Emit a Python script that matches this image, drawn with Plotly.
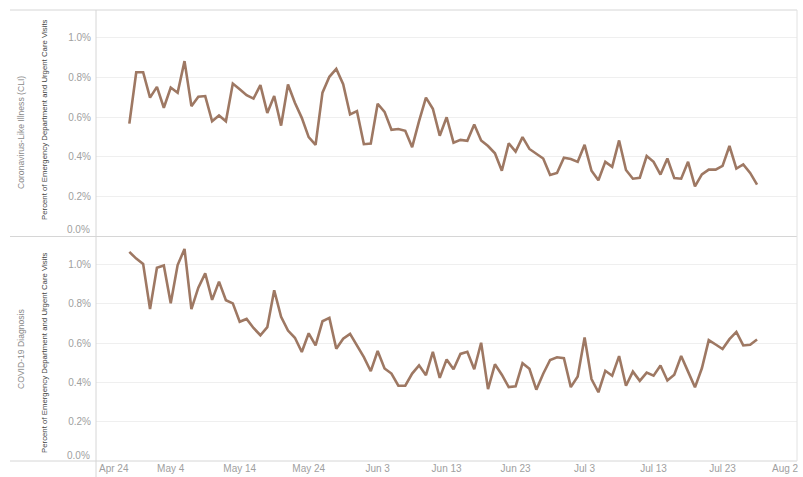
import pandas as pd
import plotly.graph_objects as go
from plotly.subplots import make_subplots

start_date = "2020-04-28"

cli_pct = [0.567, 0.826, 0.826, 0.698, 0.752, 0.647, 0.749, 0.723, 0.882, 0.655,
           0.703, 0.706, 0.579, 0.608, 0.579, 0.769, 0.740, 0.710, 0.693, 0.761,
           0.621, 0.706, 0.557, 0.764, 0.672, 0.596, 0.499, 0.460, 0.723, 0.803,
           0.843, 0.766, 0.613, 0.630, 0.463, 0.466, 0.667, 0.626, 0.536, 0.540,
           0.531, 0.448, 0.579, 0.698, 0.642, 0.506, 0.599, 0.471, 0.485, 0.480,
           0.563, 0.482, 0.454, 0.417, 0.329, 0.468, 0.426, 0.499, 0.439, 0.414,
           0.391, 0.308, 0.318, 0.395, 0.388, 0.374, 0.460, 0.329, 0.281, 0.374,
           0.349, 0.482, 0.333, 0.289, 0.294, 0.403, 0.374, 0.310, 0.391, 0.292,
           0.289, 0.374, 0.250, 0.311, 0.335, 0.335, 0.354, 0.454, 0.340, 0.361,
           0.318, 0.259]

covid_pct = [1.064, 1.030, 1.003, 0.773, 0.983, 0.995, 0.803, 0.997, 1.079, 0.773,
             0.882, 0.955, 0.820, 0.913, 0.818, 0.802, 0.709, 0.723, 0.677, 0.640,
             0.681, 0.869, 0.734, 0.664, 0.627, 0.555, 0.650, 0.588, 0.711, 0.728,
             0.571, 0.622, 0.647, 0.588, 0.529, 0.457, 0.560, 0.471, 0.445, 0.383,
             0.383, 0.445, 0.487, 0.437, 0.555, 0.423, 0.517, 0.467, 0.545, 0.556,
             0.467, 0.602, 0.366, 0.492, 0.439, 0.376, 0.380, 0.497, 0.469, 0.363,
             0.444, 0.514, 0.528, 0.523, 0.376, 0.430, 0.629, 0.417, 0.350, 0.459,
             0.434, 0.534, 0.383, 0.455, 0.408, 0.450, 0.434, 0.486, 0.410, 0.439,
             0.534, 0.455, 0.375, 0.472, 0.615, 0.593, 0.570, 0.620, 0.657, 0.588,
             0.592, 0.618]

row_labels = ["Coronavirus-Like Illness (CLI)", "COVID-19 Diagnosis"]
axis_title = "Percent of Emergency Department and Urgent Care Visits"
x_tick_dates = ["2020-04-24", "2020-05-04", "2020-05-14", "2020-05-24", "2020-06-03",
                "2020-06-13", "2020-06-23", "2020-07-03", "2020-07-13", "2020-07-23",
                "2020-08-02"]
x_tick_labels = ["Apr 24", "May 4", "May 14", "May 24", "Jun 3", "Jun 13", "Jun 23",
                 "Jul 3", "Jul 13", "Jul 23", "Aug 2"]
y_tick_vals = [0.0, 0.2, 0.4, 0.6, 0.8, 1.0]
y_tick_labels = ["0.0%", "0.2%", "0.4%", "0.6%", "0.8%", "1.0%"]

dates = pd.date_range(start_date, periods=len(cli_pct), freq="D")

LINE = "#9E7863"
SANS = "Liberation Sans, Arial, sans-serif"
TICK_COLOR = "#a0a0a0"

fig = make_subplots(rows=2, cols=1, shared_xaxes=True, vertical_spacing=0.002)
fig.add_trace(go.Scatter(x=dates, y=cli_pct, mode="lines",
                         line=dict(color=LINE, width=2.6), showlegend=False), row=1, col=1)
fig.add_trace(go.Scatter(x=dates, y=covid_pct, mode="lines",
                         line=dict(color=LINE, width=2.6), showlegend=False), row=2, col=1)

W, H = 803, 477
L, R, T, B = 96, 6, 10, 16
ph = H - T - B
pw = W - L - R

fig.update_layout(
    width=W, height=H,
    margin=dict(l=L, r=R, t=T, b=B, autoexpand=False),
    paper_bgcolor="white", plot_bgcolor="white",
    font=dict(family=SANS, size=10, color="#999999"),
)
fig.update_layout(yaxis=dict(domain=[(461 - 236) / ph, 1.0]),
                  yaxis2=dict(domain=[0.0, (461 - 237) / ph]))

# inner tick labels on the axes; the edge labels (nudged inside the pane, as in the original) as text
inner_vals = x_tick_dates[1:-1]
inner_text = x_tick_labels[1:-1]

for r in (1, 2):
    fig.update_yaxes(range=[0, 1.14], tickvals=y_tick_vals[1:], ticktext=y_tick_labels[1:],
                     showgrid=True, gridcolor="#efefef", gridwidth=1,
                     zeroline=False, showline=False, ticks="",
                     ticklabelstandoff=4, automargin=False,
                     tickfont=dict(family=SANS, size=10, color=TICK_COLOR),
                     row=r, col=1)
    fig.update_xaxes(range=["2020-04-23 04:00", "2020-08-02 19:00"],
                     tickvals=inner_vals, ticktext=inner_text,
                     showgrid=False, zeroline=False, showline=False, ticks="",
                     automargin=False, ticklabelstandoff=0,
                     ticklabeloverflow="allow",
                     tickfont=dict(family=SANS, size=10, color=TICK_COLOR),
                     row=r, col=1)

def px_x(x):
    return (x - L) / pw

def px_y(y):
    return (H - B - y) / ph

shapes = []
for yy in (10, 236.5, 461):
    shapes.append(dict(type="line", xref="paper", yref="paper",
                       x0=px_x(10), x1=px_x(797), y0=px_y(yy), y1=px_y(yy),
                       line=dict(color="#d6d6d6", width=1)))
shapes.append(dict(type="line", xref="paper", yref="paper",
                   x0=px_x(96), x1=px_x(96), y0=px_y(10), y1=px_y(477),
                   line=dict(color="#d6d6d6", width=1)))
shapes.append(dict(type="line", xref="paper", yref="paper",
                   x0=px_x(797), x1=px_x(797), y0=px_y(10), y1=px_y(461),
                   line=dict(color="#e2e2e2", width=1)))
fig.update_layout(shapes=shapes)

annotations = [
    dict(text=row_labels[0], x=px_x(21), y=px_y(133), xref="paper", yref="paper",
         textangle=-90, showarrow=False, xanchor="center", yanchor="middle",
         font=dict(family=SANS, size=8.6, color="#8a8a8a")),
    dict(text=row_labels[1], x=px_x(21), y=px_y(349), xref="paper", yref="paper",
         textangle=-90, showarrow=False, xanchor="center", yanchor="middle",
         font=dict(family=SANS, size=8.6, color="#8a8a8a")),
    dict(text=axis_title, x=px_x(44), y=px_y(119), xref="paper", yref="paper",
         textangle=-90, showarrow=False, xanchor="center", yanchor="middle",
         font=dict(family=SANS, size=7.8, color="#444444")),
    dict(text=axis_title, x=px_x(44), y=px_y(352), xref="paper", yref="paper",
         textangle=-90, showarrow=False, xanchor="center", yanchor="middle",
         font=dict(family=SANS, size=7.8, color="#444444")),
    dict(text=x_tick_labels[0], x=px_x(97), y=px_y(468), xref="paper", yref="paper",
         showarrow=False, xanchor="left", yanchor="middle",
         font=dict(family=SANS, size=10, color=TICK_COLOR)),
    dict(text=x_tick_labels[-1], x=px_x(801), y=px_y(468), xref="paper", yref="paper",
         showarrow=False, xanchor="right", yanchor="middle",
         font=dict(family=SANS, size=10, color=TICK_COLOR)),
    dict(text=y_tick_labels[0], x=px_x(92), y=px_y(229), xref="paper", yref="paper",
         showarrow=False, xanchor="right", yanchor="middle",
         font=dict(family=SANS, size=10, color=TICK_COLOR)),
    dict(text=y_tick_labels[0], x=px_x(92), y=px_y(455), xref="paper", yref="paper",
         showarrow=False, xanchor="right", yanchor="middle",
         font=dict(family=SANS, size=10, color=TICK_COLOR)),
]
fig.update_layout(annotations=annotations)

fig.write_html("out.html",
               config={"displayModeBar": False},
               post_script="document.body.style.margin='0';document.body.style.padding='0';")
